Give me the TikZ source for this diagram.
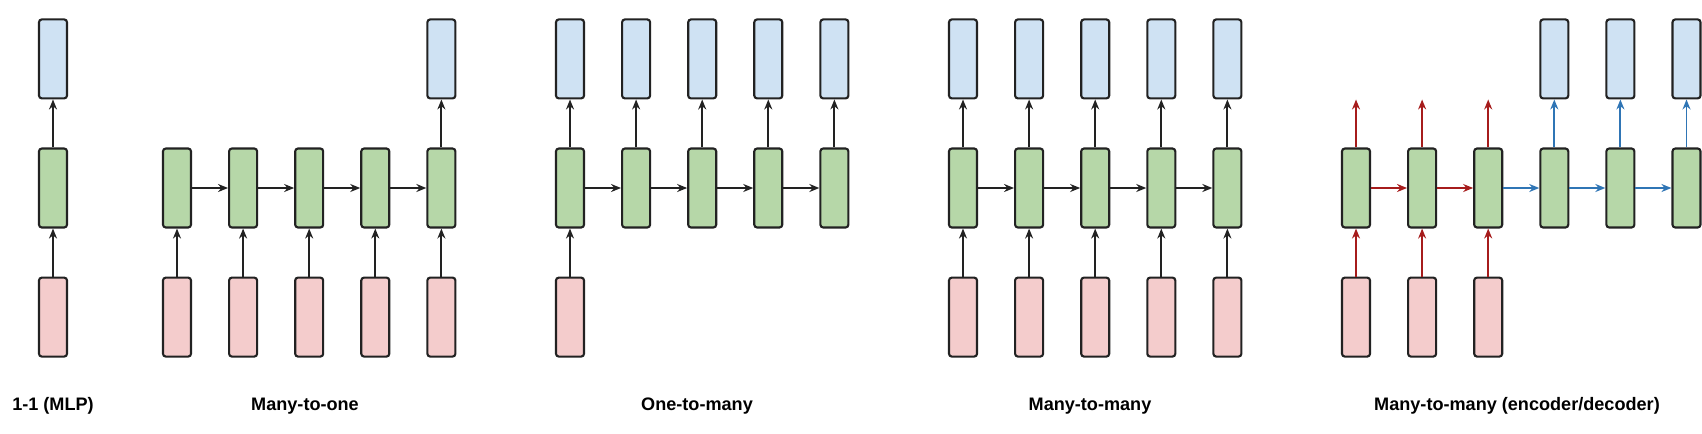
\documentclass[tikz,border=0pt]{standalone}
\usepackage{fontspec}
\setmainfont{Liberation Sans}
\usepackage{xcolor}
\definecolor{c_in}{HTML}{F4CCCC}
\definecolor{c_hid}{HTML}{B6D7A8}
\definecolor{c_out}{HTML}{CFE2F3}
\definecolor{c_enc}{HTML}{A61C1C}
\definecolor{c_dec}{HTML}{2F75B5}
\definecolor{c_line}{HTML}{222222}
\usepackage{tikz}
\usetikzlibrary{positioning,arrows.meta}

\begin{document}
\begin{tikzpicture}[
        x=0.02cm, y=-0.02cm,
        node distance=0.96cm and 0.72cm,
        cell/.style={draw=c_line, line width=1.2pt, rounded corners=1.6pt, minimum width=0.56cm, minimum height=1.58cm, inner sep=0pt},
        inp/.style={cell, fill=c_in},
        hid/.style={cell, fill=c_hid},
        outp/.style={cell, fill=c_out},
        link/.style={-{Stealth[length=2mm, width=1.6mm]}, line width=1.05pt, draw=c_line},
        caption/.style={anchor=base, font=\bfseries\fontsize{10.3}{12}\selectfont}]
    \useasboundingbox (0,0) rectangle (1702,433);
        % 1-1 (MLP)
        \node[hid] (mH) at (53,188) {};
        \node[outp] (mY) [above = of mH] {};
        \node[inp] (mX) [below = of mH] {};
        \draw[link] (mX) -- (mH);
        \draw[link] (mH) -- (mY);
        \node[caption] (capM) at (53,410) {1-1 (MLP)};
        % many-to-one
        \node[hid] (aH1) at (177,188) {};
        \foreach \i [count=\j from 2] in {1,...,4}
            \node[hid] (aH\j) [right = of aH\i] {};
        \foreach \i in {1,...,5} {
            \node[inp] (aX\i) [below = of aH\i] {};
            \draw[link] (aX\i) -- (aH\i);
        }
        \foreach \i [count=\j from 2] in {1,...,4}
            \draw[link] (aH\i) -- (aH\j);
        \node[outp] (aY) [above = of aH5] {};
        \draw[link] (aH5) -- (aY);
        \node[caption] (capA) at (305,410) {Many-to-one};
        % one-to-many
        \node[hid] (bH1) at (570,188) {};
        \foreach \i [count=\j from 2] in {1,...,4}
            \node[hid] (bH\j) [right = of bH\i] {};
        \node[inp] (bX) [below = of bH1] {};
        \draw[link] (bX) -- (bH1);
        \foreach \i in {1,...,5} {
            \node[outp] (bY\i) [above = of bH\i] {};
            \draw[link] (bH\i) -- (bY\i);
        }
        \foreach \i [count=\j from 2] in {1,...,4}
            \draw[link] (bH\i) -- (bH\j);
        \node[caption] (capB) at (697,410) {One-to-many};
        % many-to-many
        \node[hid] (cH1) at (963,188) {};
        \foreach \i [count=\j from 2] in {1,...,4}
            \node[hid] (cH\j) [right = of cH\i] {};
        \foreach \i in {1,...,5} {
            \node[inp] (cX\i) [below = of cH\i] {};
            \node[outp] (cY\i) [above = of cH\i] {};
            \draw[link] (cX\i) -- (cH\i);
            \draw[link] (cH\i) -- (cY\i);
        }
        \foreach \i [count=\j from 2] in {1,...,4}
            \draw[link] (cH\i) -- (cH\j);
        \node[caption] (capC) at (1090,410) {Many-to-many};
        % many-to-many (encoder/decoder)
        \node[hid] (eH1) at (1356,188) {};
        \foreach \i [count=\j from 2] in {1,...,5}
            \node[hid] (eH\j) [right = of eH\i] {};
        \foreach \i in {1,...,3} {
            \node[inp] (eX\i) [below = of eH\i] {};
            \coordinate (eT\i) at ([yshift=0.96cm]eH\i.north);
            \draw[link, draw=c_enc, fill=c_enc] (eX\i) -- (eH\i);
            \draw[link, draw=c_enc, fill=c_enc] (eH\i) -- (eT\i);
        }
        \foreach \i in {4,...,6} {
            \node[outp] (eY\i) [above = of eH\i] {};
            \draw[link, draw=c_dec, fill=c_dec] (eH\i) -- (eY\i);
        }
        \draw[link, draw=c_enc, fill=c_enc] (eH1) -- (eH2);
        \draw[link, draw=c_enc, fill=c_enc] (eH2) -- (eH3);
        \foreach \i [count=\j from 4] in {3,...,5}
            \draw[link, draw=c_dec, fill=c_dec] (eH\i) -- (eH\j);
        \node[caption] (capE) at (1517,410) {Many-to-many (encoder/decoder)};
    \end{tikzpicture}
\end{document}
